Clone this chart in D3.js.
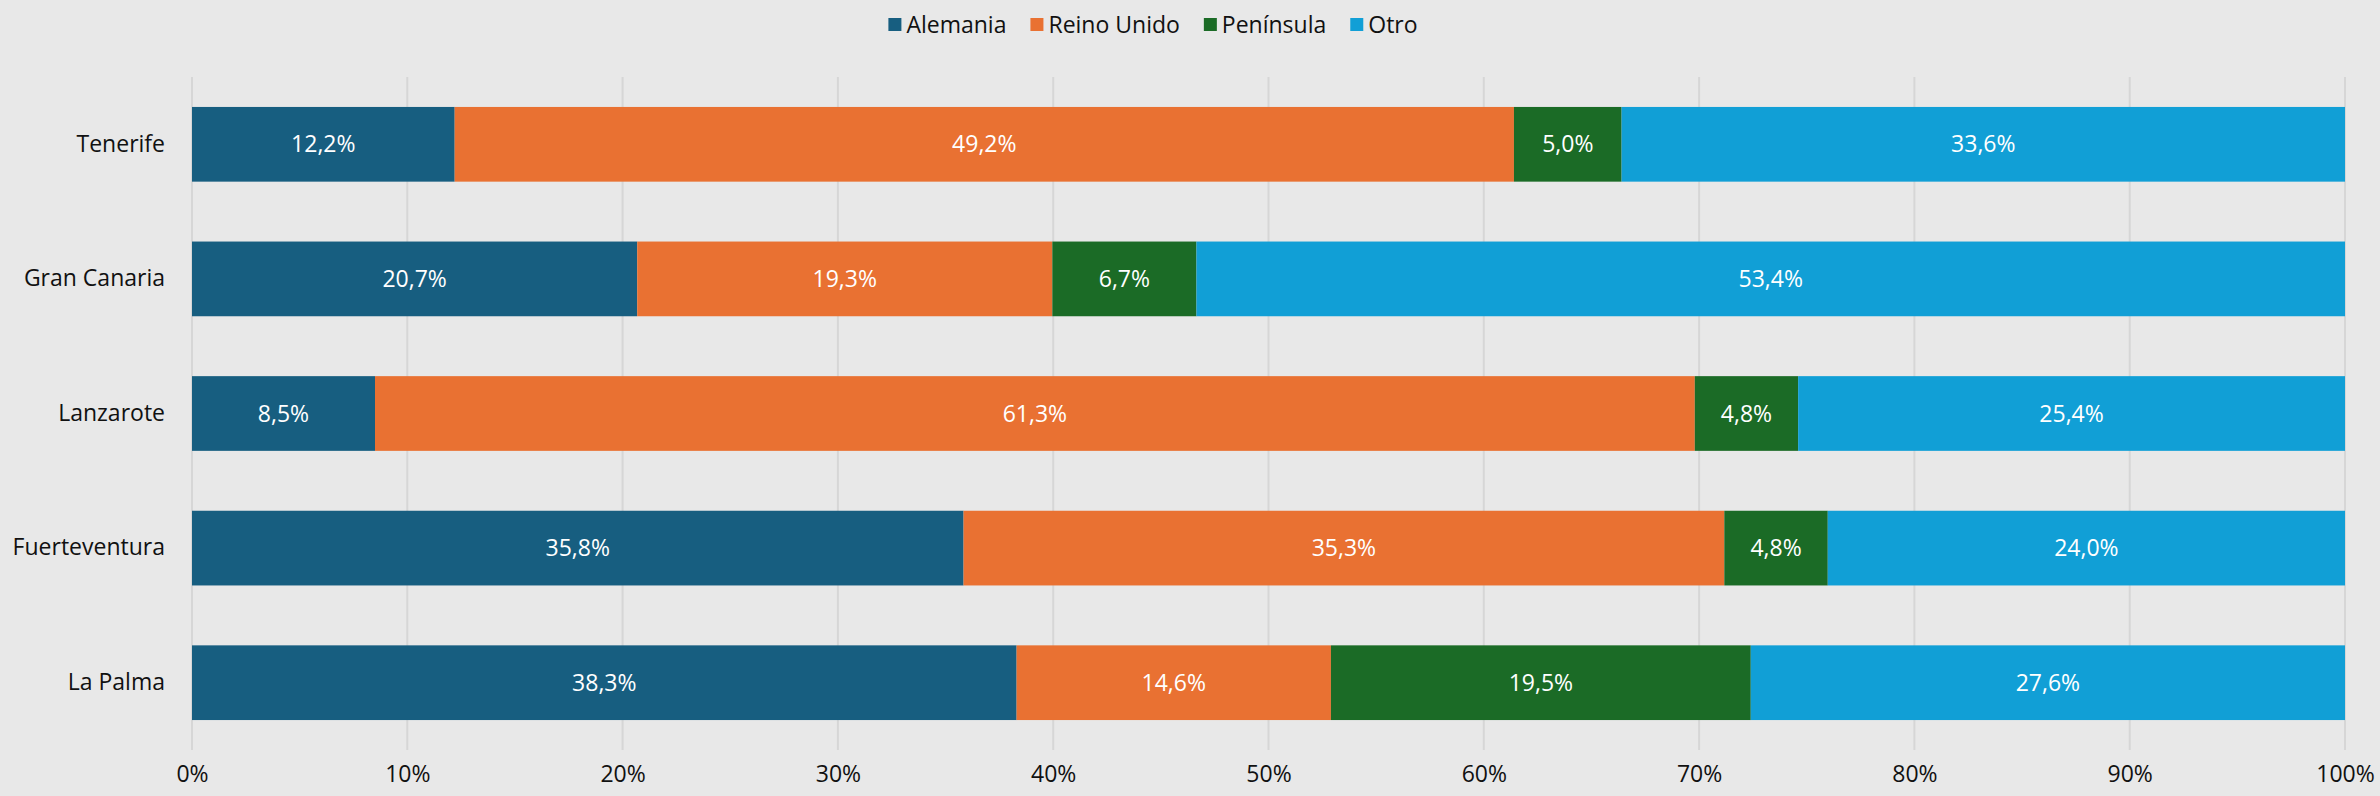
<!DOCTYPE html>
<html>
<head>
<meta charset="utf-8">
<script src="https://cdn.jsdelivr.net/npm/d3@7"></script>
<style>
  html, body { margin: 0; padding: 0; background: #e8e8e8; }
  svg { display: block; }
  text { font-family: "Open Sans", "Noto Sans", sans-serif; }
</style>
</head>
<body>
<svg id="chart" width="2380" height="796"></svg>
<script>
// Islands (top to bottom) and share of tourists by origin, in percent
const islands = ["Tenerife", "Gran Canaria", "Lanzarote", "Fuerteventura", "La Palma"];
const seriesNames = ["Alemania", "Reino Unido", "Península", "Otro"];
const alemania   = [12.2, 20.7, 8.5, 35.8, 38.3];
const reinoUnido = [49.2, 19.3, 61.3, 35.3, 14.6];
const peninsula  = [5.0, 6.7, 4.8, 4.8, 19.5];
const otro       = [33.6, 53.4, 25.4, 24.0, 27.6];
const xTicks = [0, 0.1, 0.2, 0.3, 0.4, 0.5, 0.6, 0.7, 0.8, 0.9, 1];
const colors = ["#175e80", "#e97132", "#1b6b26", "#119fd6"];

const rows = islands.map((name, i) => ({
  island: name,
  "Alemania": alemania[i],
  "Reino Unido": reinoUnido[i],
  "Península": peninsula[i],
  "Otro": otro[i]
}));

const svg = d3.select("#chart");
const margin = { left: 192, right: 35, top: 77, bottom: 46 };
const W = 2380, H = 796;
const FS = 23;

const x = d3.scaleLinear().domain([0, 1]).range([margin.left, W - margin.right]);
const y = d3.scaleBand().domain(islands).range([margin.top, H - margin.bottom]).paddingInner(0.445).paddingOuter(0.2225);
const color = d3.scaleOrdinal().domain(seriesNames).range(colors);

const stacked = d3.stack().keys(seriesNames).offset(d3.stackOffsetExpand)(rows);

// vertical gridlines
svg.append("g")
  .selectAll("line")
  .data(xTicks)
  .join("line")
  .attr("x1", d => x(d)).attr("x2", d => x(d))
  .attr("y1", margin.top).attr("y2", H - margin.bottom)
  .attr("stroke", "#d6d6d6").attr("stroke-width", 2);

// x axis labels
const xAxis = d3.axisBottom(x).tickValues(xTicks).tickFormat(d3.format(".0%")).tickSize(0).tickPadding(0);
const gx = svg.append("g").attr("transform", `translate(0,${H - 22})`).call(xAxis);
gx.select(".domain").remove();
gx.selectAll("text")
  .attr("font-size", FS).attr("fill", "#111").attr("dy", "0.35em")
  .style("font-family", "'Open Sans', 'Noto Sans', sans-serif");

// y axis labels
const yAxis = d3.axisLeft(y).tickSize(0).tickPadding(27);
const gy = svg.append("g").attr("transform", `translate(${margin.left},0)`).call(yAxis);
gy.select(".domain").remove();
gy.selectAll("text")
  .attr("font-size", FS).attr("fill", "#111")
  .style("font-family", "'Open Sans', 'Noto Sans', sans-serif");

// stacked bars
const layers = svg.append("g")
  .selectAll("g")
  .data(stacked)
  .join("g")
  .attr("fill", d => color(d.key));

layers.selectAll("rect")
  .data(d => d.map(p => ({ p, key: d.key })))
  .join("rect")
  .attr("x", d => x(d.p[0]))
  .attr("width", d => x(d.p[1]) - x(d.p[0]))
  .attr("y", d => y(d.p.data.island))
  .attr("height", y.bandwidth());

// value labels
const fmt = v => d3.format(".1f")(v).replace(".", ",") + "%";
layers.selectAll("text")
  .data(d => d.map(p => ({ p, key: d.key })))
  .join("text")
  .attr("x", d => (x(d.p[0]) + x(d.p[1])) / 2)
  .attr("y", d => y(d.p.data.island) + y.bandwidth() / 2)
  .attr("dy", "0.35em")
  .attr("text-anchor", "middle")
  .attr("fill", "#ffffff")
  .attr("font-size", FS)
  .text(d => fmt(d.p.data[d.key]));

// legend, centred above the plot; items laid out by their measured width
const swatch = 13, swatchGap = 5, itemGap = 24, legendCenter = 1153;
const legend = svg.append("g").attr("transform", "translate(0,18)");
const items = legend.selectAll("g")
  .data(seriesNames)
  .join("g");
items.append("rect").attr("width", swatch).attr("height", swatch).attr("fill", d => color(d));
items.append("text")
  .attr("x", swatch + swatchGap).attr("y", swatch / 2).attr("dy", "0.35em")
  .attr("font-size", FS).attr("fill", "#111")
  .text(d => d);
const widths = [];
items.each(function () {
  widths.push(swatch + swatchGap + d3.select(this).select("text").node().getComputedTextLength());
});
const total = d3.sum(widths) + itemGap * (widths.length - 1);
let cursor = legendCenter - total / 2;
items.attr("transform", (d, i) => {
  const pos = cursor;
  cursor += widths[i] + itemGap;
  return `translate(${pos},0)`;
});
</script>
</body>
</html>
